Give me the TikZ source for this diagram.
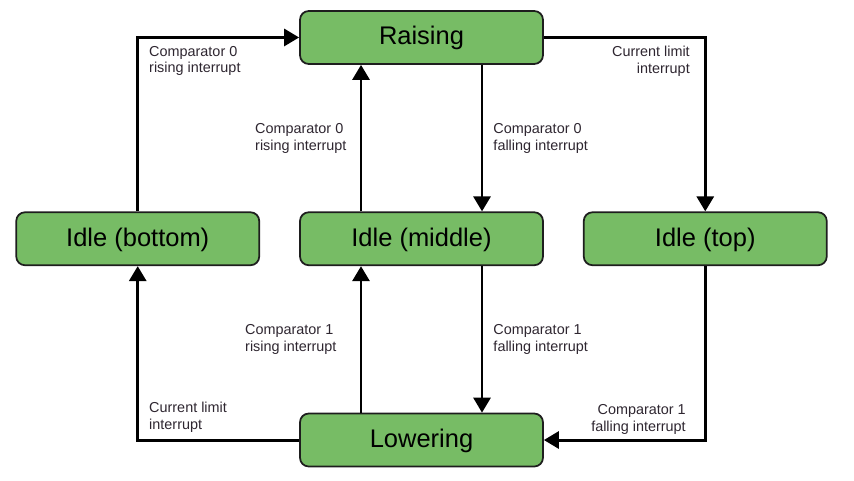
\documentclass[tikz,border=0pt]{standalone}
\usepackage{fontspec}
\setmainfont{Liberation Sans}
\usetikzlibrary{positioning,arrows.meta}
\definecolor{stateFill}{HTML}{77BC65}
\definecolor{stateBorder}{HTML}{1E1E1E}
\definecolor{labelText}{HTML}{2E2630}

\begin{document}
\begin{tikzpicture}[
  node distance=2.93cm and 0.78cm,
  every node/.style={font=\fontsize{14.5}{17}\selectfont},
  snode/.style={draw=stateBorder,fill=stateFill,rounded corners=5pt,line width=1pt,
    minimum width=4.86cm,minimum height=1.06cm,inner sep=0pt,
    text height=10.6pt,text depth=2.2pt},
  arr/.style={-{Triangle[length=0.3cm,width=0.34cm]},line width=1.7pt},
  lbl/.style={font=\fontsize{8.2}{9.5}\selectfont,text=labelText,align=left,inner sep=0pt}
]
  \useasboundingbox (0,0) rectangle (17.08,-9.62);

  % --- states ---
  \node[snode] at (8.43,-0.75) (rais) {Raising};
  \node[snode,below=of rais] (idlem) {Idle (middle)};
  \node[snode,left=of idlem] (idleb) {Idle (bottom)};
  \node[snode,right=of idlem] (idlet) {Idle (top)};
  \node[snode,below=of idlem] (low) {Lowering};

  % --- outer loop ---
  \draw[arr] (idleb.north) |- node[lbl,anchor=north west,xshift=0.2cm,yshift=-0.14cm]
    {Comparator 0\\rising interrupt} (rais.west);
  \draw[arr] (rais.east) -| node[lbl,anchor=north east,align=right,xshift=-0.28cm,yshift=-0.14cm]
    {Current limit\\interrupt} (idlet.north);
  \draw[arr] (low.west) -| node[lbl,anchor=south west,xshift=0.2cm,yshift=0.13cm]
    {Current limit\\interrupt} (idleb.south);
  \draw[arr] (idlet.south) |- node[lbl,anchor=south east,align=right,xshift=-0.36cm,yshift=0.08cm]
    {Comparator 1\\falling interrupt} (low.east);

  % --- middle column ---
  \draw[arr] ([xshift=-1.21cm]idlem.north) -- node[lbl,left=0.26cm]
    {Comparator 0\\rising interrupt} ([xshift=-1.21cm]rais.south);
  \draw[arr] ([xshift=1.21cm]rais.south) -- node[lbl,right=0.2cm]
    {Comparator 0\\falling interrupt} ([xshift=1.21cm]idlem.north);
  \draw[arr] ([xshift=-1.21cm]low.north) -- node[lbl,left=0.46cm]
    {Comparator 1\\rising interrupt} ([xshift=-1.21cm]idlem.south);
  \draw[arr] ([xshift=1.21cm]idlem.south) -- node[lbl,right=0.2cm]
    {Comparator 1\\falling interrupt} ([xshift=1.21cm]low.north);
\end{tikzpicture}
\end{document}
